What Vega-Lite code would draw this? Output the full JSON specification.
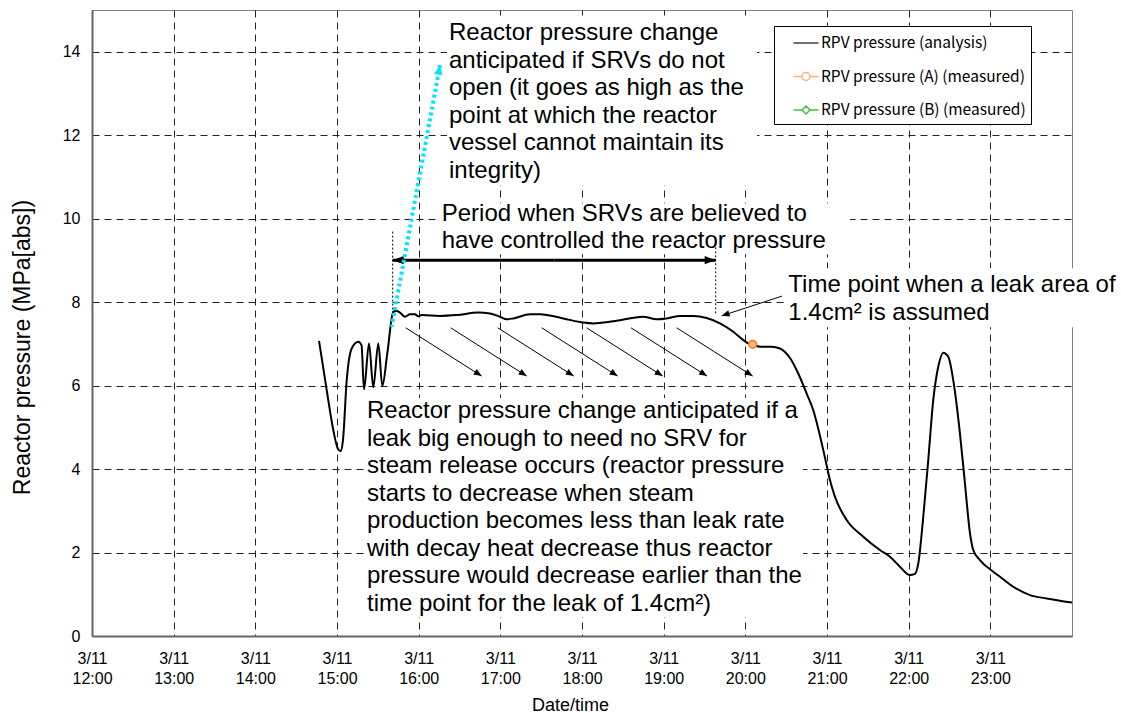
{
  "$schema": "https://vega.github.io/schema/vega-lite/v6.json",
  "width": 980,
  "height": 626,
  "autosize": {"type": "none"},
  "padding": {"left": 92, "top": 10, "right": 49, "bottom": 77},
  "background": "white",
  "config": {
    "view": {"stroke": "#808080", "strokeWidth": 1},
    "font": "Liberation Sans",
    "axis": {
      "gridColor": "#222222", "gridDash": [7, 5], "gridWidth": 1,
      "domainColor": "#666666", "domainWidth": 2,
      "ticks": false, "tickSize": 0,
      "labelColor": "black", "labelFont": "Liberation Sans", "labelFontSize": 16,
      "titleFont": "Liberation Sans", "titleFontWeight": "normal", "titleColor": "black"
    }
  },
  "datasets": {
    "analysis": [
      {"h": 14.780, "p": 7.07}, {"h": 14.874, "p": 5.89}, {"h": 14.955, "p": 4.93}, {"h": 15.008, "p": 4.50},
      {"h": 15.043, "p": 4.43}, {"h": 15.073, "p": 4.69}, {"h": 15.119, "p": 6.13}, {"h": 15.180, "p": 6.89},
      {"h": 15.261, "p": 7.05}, {"h": 15.300, "p": 6.97}, {"h": 15.331, "p": 5.91}, {"h": 15.392, "p": 7.01},
      {"h": 15.444, "p": 5.96}, {"h": 15.506, "p": 7.01}, {"h": 15.555, "p": 5.99}, {"h": 15.616, "p": 6.77},
      {"h": 15.689, "p": 7.77}, {"h": 15.731, "p": 7.79}, {"h": 15.771, "p": 7.75}, {"h": 15.833, "p": 7.65},
      {"h": 15.894, "p": 7.71}, {"h": 15.955, "p": 7.71}, {"h": 15.995, "p": 7.66}, {"h": 16.037, "p": 7.69},
      {"h": 16.261, "p": 7.67}, {"h": 16.466, "p": 7.69}, {"h": 16.730, "p": 7.75}, {"h": 16.873, "p": 7.73},
      {"h": 16.996, "p": 7.65}, {"h": 17.078, "p": 7.59}, {"h": 17.159, "p": 7.61}, {"h": 17.363, "p": 7.71},
      {"h": 17.486, "p": 7.71}, {"h": 17.771, "p": 7.61}, {"h": 18.016, "p": 7.51}, {"h": 18.138, "p": 7.49},
      {"h": 18.383, "p": 7.54}, {"h": 18.750, "p": 7.65}, {"h": 18.914, "p": 7.59}, {"h": 19.037, "p": 7.61},
      {"h": 19.200, "p": 7.67}, {"h": 19.363, "p": 7.67}, {"h": 19.527, "p": 7.62}, {"h": 19.690, "p": 7.49},
      {"h": 19.852, "p": 7.29}, {"h": 19.975, "p": 7.09}, {"h": 20.036, "p": 7.01}, {"h": 20.090, "p": 6.98},
      {"h": 20.179, "p": 6.93}, {"h": 20.322, "p": 6.93}, {"h": 20.424, "p": 6.89}, {"h": 20.547, "p": 6.66},
      {"h": 20.648, "p": 6.29}, {"h": 20.751, "p": 5.81}, {"h": 20.832, "p": 5.41}, {"h": 20.954, "p": 4.46},
      {"h": 21.036, "p": 3.74}, {"h": 21.097, "p": 3.34}, {"h": 21.241, "p": 2.78}, {"h": 21.444, "p": 2.38},
      {"h": 21.648, "p": 2.06}, {"h": 21.771, "p": 1.90}, {"h": 21.893, "p": 1.66}, {"h": 22.016, "p": 1.46},
      {"h": 22.077, "p": 1.49}, {"h": 22.118, "p": 1.74}, {"h": 22.179, "p": 2.86}, {"h": 22.240, "p": 4.22},
      {"h": 22.301, "p": 5.65}, {"h": 22.362, "p": 6.45}, {"h": 22.424, "p": 6.79}, {"h": 22.485, "p": 6.69},
      {"h": 22.546, "p": 6.13}, {"h": 22.628, "p": 4.85}, {"h": 22.689, "p": 3.66}, {"h": 22.751, "p": 2.46},
      {"h": 22.791, "p": 2.06}, {"h": 22.873, "p": 1.82}, {"h": 23.036, "p": 1.54}, {"h": 23.118, "p": 1.42},
      {"h": 23.281, "p": 1.18}, {"h": 23.485, "p": 0.98}, {"h": 23.690, "p": 0.90}, {"h": 24.000, "p": 0.80}
    ],
    "measuredA": [{"h": 20.09, "p": 6.99}],
    "arrows": [
      {"kind": "thin", "h": 16.772, "p": 6.228, "h2": 15.841, "p2": 7.385, "angle": 32.4},
      {"kind": "thin", "h": 17.323, "p": 6.228, "h2": 16.392, "p2": 7.385, "angle": 32.4},
      {"kind": "thin", "h": 17.899, "p": 6.228, "h2": 16.968, "p2": 7.385, "angle": 32.4},
      {"kind": "thin", "h": 18.437, "p": 6.228, "h2": 17.506, "p2": 7.385, "angle": 32.4},
      {"kind": "thin", "h": 18.988, "p": 6.228, "h2": 18.057, "p2": 7.385, "angle": 32.4},
      {"kind": "thin", "h": 19.531, "p": 6.228, "h2": 18.600, "p2": 7.385, "angle": 32.4},
      {"kind": "thin", "h": 20.090, "p": 6.228, "h2": 19.159, "p2": 7.385, "angle": 32.4},
      {"kind": "thin", "h": 19.710, "p": 7.672, "h2": 20.449, "p2": 8.144, "angle": 161.9},
      {"kind": "double", "h": 15.682, "p": 9.006, "h2": 17.66, "p2": 9.006, "angle": 180},
      {"kind": "double", "h": 19.637, "p": 9.006, "h2": 17.66, "p2": 9.006, "angle": 0},
      {"kind": "cyan", "h": 16.261, "p": 13.677, "h2": 15.669, "p2": 7.408, "angle": -79.5},
      {"kind": "dotted", "h": 15.682, "p": 9.69, "h2": 15.682, "p2": 7.65},
      {"kind": "dotted", "h": 19.637, "p": 9.41, "h2": 19.637, "p2": 7.69}
    ],
    "boxes": [
      {"h": 16.347, "p": 14.87, "h2": 20.143, "p2": 10.80},
      {"h": 16.261, "p": 10.371, "h2": 21.281, "p2": 9.150},
      {"h": 20.51, "p": 8.814, "h2": 24.50, "p2": 7.401},
      {"h": 15.343, "p": 5.701, "h2": 20.706, "p2": 0.455}
    ],
    "notes": [
      {"h": 16.371, "p": 14.275, "text": ["Reactor pressure change", "anticipated if SRVs do not", "open (it goes as high as the", "point at which the reactor", "vessel cannot maintain its", "integrity)"]},
      {"h": 16.282, "p": 9.948, "text": ["Period when SRVs are believed to", "have controlled the reactor pressure"]},
      {"h": 20.526, "p": 8.24, "text": ["Time point when a leak area of", "1.4cm² is assumed"]},
      {"h": 15.367, "p": 5.222, "text": ["Reactor pressure change anticipated if a", "leak big enough to need no SRV for", "steam release occurs (reactor pressure", "starts to decrease when steam", "production becomes less than leak rate", "with decay heat decrease thus reactor", "pressure would decrease earlier than the", "time point for the leak of 1.4cm²)"]}
    ],
    "legendRows": [
      {"series": "RPV pressure (analysis)", "h": null, "p": null},
      {"series": "RPV pressure (A) (measured)", "h": null, "p": null},
      {"series": "RPV pressure (B) (measured)", "h": null, "p": null}
    ]
  },
  "encoding": {
    "x": {
      "field": "h", "type": "quantitative",
      "scale": {"domain": [12, 24], "nice": false, "zero": false},
      "axis": {
        "values": [12, 13, 14, 15, 16, 17, 18, 19, 20, 21, 22, 23],
        "labelExpr": "['3/11', format(datum.value, '02d') + ':00']",
        "labelPadding": 14, "labelLineHeight": 20, "labelFlush": false, "labelOverlap": false,
        "title": "Date/time", "titleFontSize": 18, "titleX": 478, "titleY": 69, "titleBaseline": "middle"
      }
    },
    "y": {
      "field": "p", "type": "quantitative",
      "scale": {"domain": [0, 15], "nice": false, "zero": false},
      "axis": {
        "values": [0, 2, 4, 6, 8, 10, 12, 14],
        "labelPadding": 12,
        "title": "Reactor pressure (MPa[abs])", "titleFontSize": 23, "titleX": -70, "titleY": 337, "titleBaseline": "middle"
      }
    }
  },
  "layer": [
    {
      "data": {"name": "boxes"},
      "mark": {"type": "rect", "fill": "white", "strokeWidth": 0},
      "encoding": {"x2": {"field": "h2"}, "y2": {"field": "p2"}}
    },
    {
      "data": {"name": "analysis"},
      "mark": {"type": "line", "color": "black", "strokeWidth": 2, "interpolate": "monotone"}
    },
    {
      "data": {"name": "measuredA"},
      "mark": {"type": "point", "shape": "circle", "filled": true, "fill": "#FBB57A", "stroke": "#F47B20", "strokeWidth": 1.5, "size": 60, "opacity": 1}
    },
    {
      "data": {"name": "arrows"},
      "transform": [{"filter": "datum.kind == 'thin'"}],
      "mark": {"type": "rule", "color": "black", "strokeWidth": 1},
      "encoding": {"x2": {"field": "h2"}, "y2": {"field": "p2"}}
    },
    {
      "data": {"name": "arrows"},
      "transform": [{"filter": "datum.kind == 'thin'"}],
      "mark": {"type": "point", "shape": "M0,0L-2,-0.8L-2,0.8Z", "filled": true, "color": "black", "size": 64, "opacity": 1},
      "encoding": {"angle": {"field": "angle", "type": "quantitative", "scale": null}}
    },
    {
      "data": {"name": "arrows"},
      "transform": [{"filter": "datum.kind == 'double'"}],
      "mark": {"type": "rule", "color": "black", "strokeWidth": 3},
      "encoding": {"x2": {"field": "h2"}, "y2": {"field": "p2"}}
    },
    {
      "data": {"name": "arrows"},
      "transform": [{"filter": "datum.kind == 'double'"}],
      "mark": {"type": "point", "shape": "M0,0L-2,-0.75L-2,0.75Z", "filled": true, "color": "black", "size": 121, "opacity": 1},
      "encoding": {"angle": {"field": "angle", "type": "quantitative", "scale": null}}
    },
    {
      "data": {"name": "arrows"},
      "transform": [{"filter": "datum.kind == 'dotted'"}],
      "mark": {"type": "rule", "color": "black", "strokeWidth": 1, "strokeDash": [2, 2]},
      "encoding": {"x2": {"field": "h2"}, "y2": {"field": "p2"}}
    },
    {
      "data": {"name": "arrows"},
      "transform": [{"filter": "datum.kind == 'cyan'"}],
      "mark": {"type": "rule", "color": "#00E5FF", "strokeWidth": 4, "strokeDash": [3, 3]},
      "encoding": {"x2": {"field": "h2"}, "y2": {"field": "p2"}}
    },
    {
      "data": {"name": "arrows"},
      "transform": [{"filter": "datum.kind == 'cyan'"}],
      "mark": {"type": "point", "shape": "M0,0L-2,-0.9L-2,0.9Z", "filled": true, "color": "#00E5FF", "size": 90, "opacity": 1},
      "encoding": {"angle": {"field": "angle", "type": "quantitative", "scale": null}}
    },
    {
      "data": {"name": "notes"},
      "mark": {"type": "text", "align": "left", "baseline": "alphabetic", "font": "Liberation Sans", "fontSize": 24, "lineHeight": 27.5, "color": "black"},
      "encoding": {"text": {"field": "text", "type": "nominal"}}
    },
    {
      "data": {"name": "legendRows"},
      "mark": {"type": "point", "filled": false, "strokeWidth": 1.5, "size": 484},
      "encoding": {
        "color": {
          "field": "series", "type": "nominal",
          "scale": {"domain": ["RPV pressure (analysis)", "RPV pressure (A) (measured)", "RPV pressure (B) (measured)"], "range": ["black", "#F79646", "#00A000"]},
          "legend": {
            "orient": "none", "legendX": 682, "legendY": 16, "title": null,
            "padding": 5, "strokeColor": "black", "fillColor": "white",
            "symbolSize": 484, "symbolStrokeWidth": 1.6, "symbolOffset": 15, "labelOffset": 3, "rowPadding": 12.5,
            "labelFont": "Noto Sans CJK JP", "labelFontSize": 15.5, "labelColor": "black", "labelLimit": 400,
            "encode": {"symbols": {"update": {"fill": {"signal": "datum.value === 'RPV pressure (A) (measured)' ? '#FAC090' : 'white'"}}}}
          }
        },
        "shape": {
          "field": "series", "type": "nominal",
          "scale": {"domain": ["RPV pressure (analysis)", "RPV pressure (A) (measured)", "RPV pressure (B) (measured)"], "range": ["M-1.14,0H1.14", "M-1.14,0H-0.36M0.36,0H1.14M-0.36,0A0.36,0.36,0,1,1,0.36,0A0.36,0.36,0,1,1,-0.36,0Z", "M-1.14,0H-0.36M0.36,0H1.14M-0.36,0L0,-0.36L0.36,0L0,0.36Z"]},
          "legend": {
            "orient": "none", "legendX": 682, "legendY": 16, "title": null,
            "padding": 5, "strokeColor": "black", "fillColor": "white",
            "symbolSize": 484, "symbolStrokeWidth": 1.6, "symbolOffset": 15, "labelOffset": 3, "rowPadding": 12.5,
            "labelFont": "Noto Sans CJK JP", "labelFontSize": 15.5, "labelColor": "black", "labelLimit": 400,
            "encode": {"symbols": {"update": {"fill": {"signal": "datum.value === 'RPV pressure (A) (measured)' ? '#FAC090' : 'white'"}}}}
          }
        }
      }
    }
  ]
}
